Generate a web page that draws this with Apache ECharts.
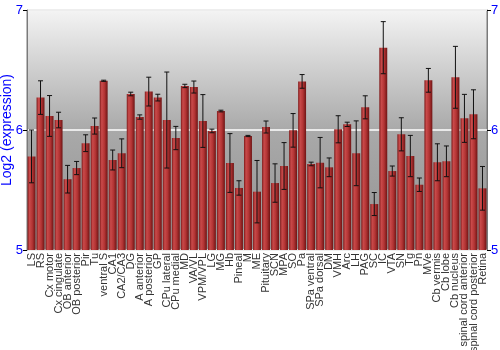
<!DOCTYPE html>
<html><head><meta charset="utf-8">
<script src="https://cdn.jsdelivr.net/npm/echarts@6/dist/echarts.min.js"></script>
<style>html,body{margin:0;padding:0;background:#fff}#c{width:500px;height:350px}</style>
</head><body><div id="c"></div>
<script>
const categories = ["LS","RS","Cx motor","Cx cingulate","OB anterior","OB posterior","Pir","Tu","ventral S","CA1","CA2/CA3","DG","A anterior","A posterior","GP","CPu lateral","CPu medial","MD","VA/VL","VPM/VPL","LG","MG","Hb","Pineal","M","ME","Pituitary","SCN","MPA","SO","Pa","SPa ventral","SPa dorsal","DM","VMH","Arc","LH","PAG","SC","IC","VTA","SN","Tg","Pn","MVe","Cb vermis","Cb lobe","Cb nucleus","spinal cord anterior","spinal cord posterior","Retina"];
const values = [5.78,6.27,6.117,6.083,5.59,5.683,5.89,6.033,6.41,5.75,5.806,6.30,6.108,6.32,6.27,6.083,5.933,6.367,6.358,6.075,5.992,6.158,5.725,5.517,5.95,5.486,6.025,5.558,5.70,5.997,6.405,5.717,5.728,5.689,6.006,6.047,5.806,6.189,5.383,6.686,5.658,5.964,5.783,5.544,6.414,5.731,5.739,6.439,6.097,6.131,5.514];
const errors = [0.22,0.14,0.17,0.065,0.115,0.055,0.07,0.067,0.005,0.083,0.12,0.015,0.018,0.12,0.028,0.4,0.097,0.014,0.05,0.22,0.015,0.007,0.245,0.06,0.005,0.26,0.05,0.16,0.195,0.14,0.057,0.015,0.21,0.078,0.113,0.018,0.27,0.096,0.096,0.217,0.042,0.138,0.172,0.056,0.099,0.154,0.128,0.258,0.2,0.204,0.182];
const yTicks = [5,6,7];

const chart = echarts.init(document.getElementById('c'));
const errData = values.map((v,i)=>[i, v-errors[i], v+errors[i]]);
chart.setOption({
  animation:false,
  grid:{left:27,right:13,top:10,bottom:100,outerBoundsMode:'none',containLabel:false,show:true,borderColor:'#7a7a7a',borderWidth:1,
    backgroundColor:new echarts.graphic.LinearGradient(0,0,0,1,[
      {offset:0,color:'#f4f4f4'},{offset:0.5,color:'#a9a9a9'},{offset:1,color:'#939393'}])},
  xAxis:{type:'category',data:categories,
    axisLine:{show:false},axisTick:{show:false},
    axisLabel:{rotate:90,interval:0,fontSize:11,color:'#333',fontFamily:'Liberation Sans',margin:3}},
  yAxis:[{type:'value',min:yTicks[0],max:yTicks[2],interval:1,position:'left',
    name:'Log2 (expression)',nameLocation:'middle',nameGap:13,nameMoveOverlap:false,
    nameTextStyle:{color:'#0000ff',fontSize:14,fontFamily:'Liberation Sans'},
    axisLine:{show:true,lineStyle:{color:'#7a7a7a'}},
    axisTick:{show:true,length:4,lineStyle:{color:'#000'}},
    axisLabel:{color:'#0000ff',fontSize:13,fontFamily:'Liberation Sans',margin:4},
    splitLine:{show:true,lineStyle:{color:'#ffffff',width:1.5}}},
   {type:'value',min:yTicks[0],max:yTicks[2],interval:1,position:'right',
    axisLine:{show:true,lineStyle:{color:'#7a7a7a'}},
    axisTick:{show:true,length:4,lineStyle:{color:'#000'}},
    axisLabel:{color:'#0000ff',fontSize:13,fontFamily:'Liberation Sans',margin:4},
    splitLine:{show:false}}],
  series:[{type:'bar',data:values,barCategoryGap:'12%',
    itemStyle:{color:new echarts.graphic.LinearGradient(0,0,1,0,[
      {offset:0,color:'#7e1a1a'},{offset:0.25,color:'#c94a4a'},{offset:0.6,color:'#b33434'},{offset:1,color:'#6e1414'}])}},
   {type:'custom',data:errData,z:10,
    renderItem:function(params,api){
      const x=api.value(0);
      const lo=api.coord([x,api.value(1)]);
      const hi=api.coord([x,api.value(2)]);
      const hw=2.5;
      const s={stroke:'#111',lineWidth:1};
      return {type:'group',children:[
        {type:'line',shape:{x1:lo[0],y1:lo[1],x2:hi[0],y2:hi[1]},style:s},
        {type:'line',shape:{x1:lo[0]-hw,y1:lo[1],x2:lo[0]+hw,y2:lo[1]},style:s},
        {type:'line',shape:{x1:hi[0]-hw,y1:hi[1],x2:hi[0]+hw,y2:hi[1]},style:s}]};
    },
    encode:{x:0,y:[1,2]}}]
});
</script></body></html>
